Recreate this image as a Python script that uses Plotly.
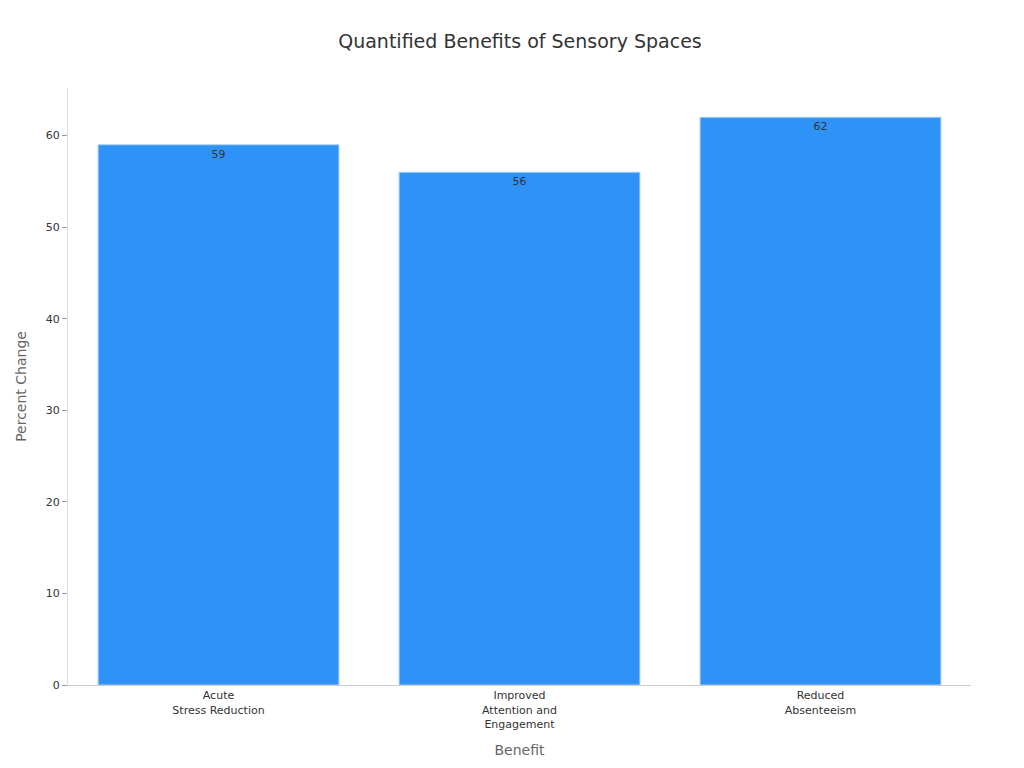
import plotly.graph_objects as go

# dati
categories = ["Acute<br>Stress Reduction", "Improved<br>Attention and<br>Engagement", "Reduced<br>Absenteeism"]
values = [59, 56, 62]

fig = go.Figure()
fig.add_trace(go.Bar(
    x=categories,
    y=values,
    text=values,
    textposition="inside",
    insidetextanchor="end",
    textfont=dict(size=11, color="#333333"),
    marker=dict(color="#2f92f7", line=dict(color="#a9cdf2", width=1)),
    width=0.8,
))

fig.update_layout(
    title=dict(text="Quantified Benefits of Sensory Spaces", x=0.5, y=0.957, yanchor="middle",
               font=dict(size=19, color="#333333")),
    font=dict(family="DejaVu Sans", size=11, color="#333333"),
    plot_bgcolor="white",
    paper_bgcolor="white",
    width=1024,
    height=768,
    margin=dict(l=60, r=61, t=80, b=91),
    showlegend=False,
    xaxis=dict(
        title=dict(text="Benefit", font=dict(size=14, color="#666666")),
        showline=True, linecolor="#cccccc", ticks="", tickfont=dict(size=11),
    ),
    yaxis=dict(
        title=dict(text="Percent Change", font=dict(size=14, color="#666666")),
        showline=True, linecolor="#dddddd", showgrid=False, zeroline=False,
        ticks="outside", tickcolor="#999999", ticklen=5, range=[0, 65.2],
        dtick=10,
    ),
)

fig.write_html("out.html")
